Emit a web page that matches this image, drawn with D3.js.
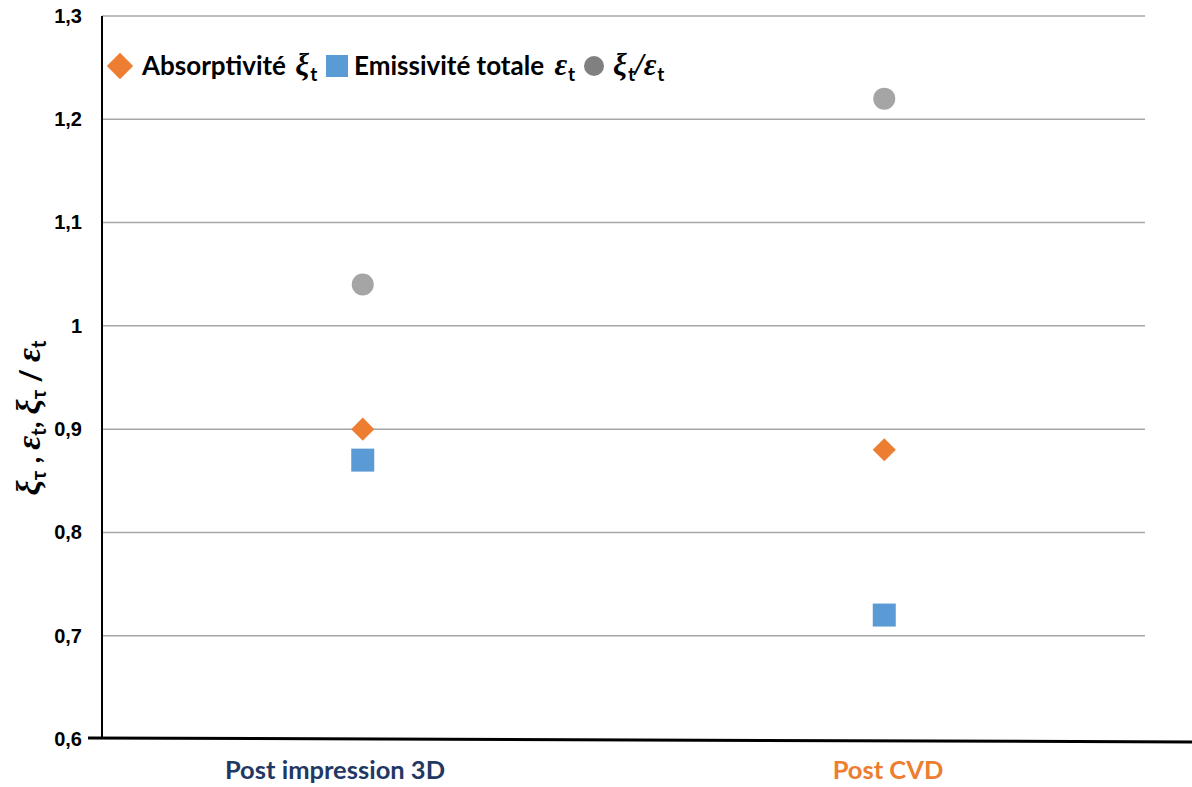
<!DOCTYPE html>
<html><head><meta charset="utf-8">
<script src="https://cdn.jsdelivr.net/npm/d3@7"></script>
<style>
body{margin:0;background:#fff;}
svg{display:block;font-family:Lato,"Open Sans",sans-serif;}
</style></head>
<body>
<svg id="c" width="1192" height="787"></svg>
<script>
const categories = ["Post impression 3D", "Post CVD"];
const absorptivite = [0.90, 0.88];
const emissivite = [0.87, 0.72];
const ratio = [1.04, 1.22];
const yTicks = [0.6, 0.7, 0.8, 0.9, 1.0, 1.1, 1.2, 1.3];
const catColors = ["#1F3864", "#ED7D31"];
const catLabelX = [335, 888];

const svg = d3.select("#c");
const L = 102, R = 1145, T = 16, B = 739;
const x = d3.scaleBand().domain(categories).range([L, R]);
const y = d3.scaleLinear().domain([0.6, 1.3]).range([B, T]);
const fmt = v => d3.format(".1f")(v).replace(".", ",").replace(/^1,0$/, "1");

// gridlines
svg.append("g").selectAll("line").data(yTicks.filter(v => v > 0.6)).join("line")
  .attr("x1", L).attr("x2", R).attr("y1", d => y(d)).attr("y2", d => y(d))
  .attr("stroke", "#A6A6A6").attr("stroke-width", 1.5);

// y axis
const yAxis = d3.axisLeft(y).tickValues(yTicks).tickFormat(fmt).tickSize(0).tickPadding(20);
const ga = svg.append("g").attr("transform", `translate(${L},0)`).call(yAxis);
ga.select(".domain").remove();
ga.selectAll("text").attr("font-size", 20).attr("font-weight", "bold").attr("fill", "#000");
svg.append("line").attr("x1", L).attr("x2", L).attr("y1", T).attr("y2", B)
  .attr("stroke", "#000").attr("stroke-width", 2);
// bottom axis (slightly tilted)
svg.append("line").attr("x1", 88).attr("x2", 1192).attr("y1", y(0.6) - 1).attr("y2", y(0.6) + 3)
  .attr("stroke", "#000").attr("stroke-width", 3);

// category labels
svg.append("g").selectAll("text").data(categories).join("text")
  .attr("x", (d, i) => catLabelX[i]).attr("y", 779)
  .attr("text-anchor", "middle").attr("font-size", 25.5).attr("font-weight", "bold")
  .attr("fill", (d, i) => catColors[i]).text(d => d);

const cx = d => x(d) + x.bandwidth() / 2;
// ratio circles
svg.append("g").selectAll("circle").data(categories).join("circle")
  .attr("cx", d => cx(d)).attr("cy", (d, i) => y(ratio[i])).attr("r", 11)
  .attr("fill", "#A5A5A5");
// diamonds
svg.append("g").selectAll("path").data(categories).join("path")
  .attr("d", d3.symbol(d3.symbolDiamond2, 340)())
  .attr("transform", (d, i) => `translate(${cx(d)},${y(absorptivite[i])})`)
  .attr("fill", "#ED7D31");
// squares
svg.append("g").selectAll("rect").data(categories).join("rect")
  .attr("x", d => cx(d) - 11.5).attr("y", (d, i) => y(emissivite[i]) - 11.5)
  .attr("width", 23).attr("height", 23).attr("fill", "#5B9BD5");

// legend
const lg = svg.append("g");
const ly = 66;
lg.append("path").attr("d", d3.symbol(d3.symbolDiamond2, 440)()).attr("transform", `translate(120,${ly})`).attr("fill", "#ED7D31");
lg.append("rect").attr("x", 326).attr("y", ly - 11).attr("width", 22).attr("height", 22).attr("fill", "#5B9BD5");
lg.append("circle").attr("cx", 594).attr("cy", ly).attr("r", 10).attr("fill", "#808080");
const greek = 'font-family:"Liberation Serif","DejaVu Serif",serif;font-style:italic;font-weight:bold;';
function addLegendText(xpos, parts) {
  const t = lg.append("text").attr("x", xpos).attr("y", ly + 9).attr("font-size", 26).attr("font-weight", "bold").attr("fill", "#000");
  parts.forEach(p => {
    const s = t.append("tspan").text(p.t);
    if (p.g) s.attr("style", greek).attr("font-size", 31);
    if (p.sub) s.attr("baseline-shift", "-30%").attr("font-size", 19);
    if (p.gap) s.attr("dx", p.gap);
  });
}
addLegendText(142, [{t: "Absorptivité "}, {t: "ξ", g: true, gap: 3}, {t: "t", sub: true, gap: 1}]);
addLegendText(354, [{t: "Emissivité totale "}, {t: "ε", g: true, gap: 4}, {t: "t", sub: true, gap: 1}]);
addLegendText(613, [{t: "ξ", g: true}, {t: "t", sub: true, gap: 1}, {t: "/", g: true}, {t: "ε", g: true}, {t: "t", sub: true, gap: 1}]);

// y axis title
const yt = svg.append("text").attr("transform", "translate(40,418) rotate(-90)")
  .attr("text-anchor", "middle").attr("font-size", 29).attr("font-weight", "bold").attr("fill", "#000");
[{t: "ξ", g: true}, {t: "τ", sub: true}, {t: " , "}, {t: "ε", g: true}, {t: "t", sub: true}, {t: ", "},
 {t: "ξ", g: true}, {t: "τ", sub: true}, {t: " / "}, {t: "ε", g: true}, {t: "t", sub: true}].forEach(p => {
  const s = yt.append("tspan").text(p.t);
  if (p.g) s.attr("style", greek).attr("font-size", 34);
  if (p.sub) s.attr("baseline-shift", "-30%").attr("font-size", 20);
});
</script>
</body></html>
